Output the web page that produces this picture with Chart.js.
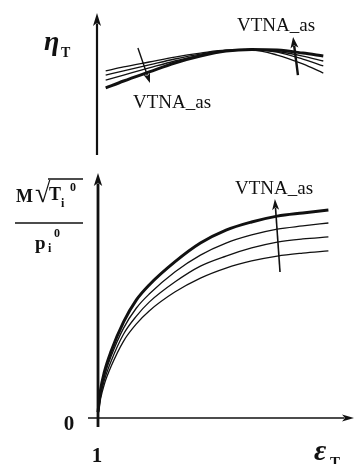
<!DOCTYPE html>
<html><head><meta charset="utf-8">
<script src="https://cdn.jsdelivr.net/npm/chart.js@4.4.1/dist/chart.umd.min.js"></script>
<style>
html,body{margin:0;padding:0;background:#fff;}
#wrap{position:relative;width:357px;height:464px;overflow:hidden;}
canvas{position:absolute;left:0;top:0;}
</style></head><body>
<div id="wrap"><canvas id="eff" width="357" height="464"></canvas><canvas id="flow" width="357" height="464"></canvas></div>
<script>
// Efficiency curves (upper panel)
const epsTop = [1.3, 2, 3, 4, 5, 6, 7, 8, 9, 9.8];
const etaA     = [5.92, 6.20, 6.55, 6.90, 7.18, 7.39, 7.39, 7.04, 6.41, 5.77];
const etaB     = [5.63, 5.92, 6.34, 6.76, 7.11, 7.36, 7.43, 7.25, 6.76, 6.27];
const etaC     = [5.28, 5.63, 6.13, 6.62, 7.04, 7.32, 7.43, 7.29, 6.97, 6.62];
const etaThick = [4.72, 5.21, 5.85, 6.48, 6.97, 7.32, 7.43, 7.39, 7.18, 6.97];

// Flow-parameter curves (lower panel)
const epsBot = [1, 1.1, 1.25, 1.5, 2, 2.5, 3, 4, 5, 6, 7, 8, 9, 10];
const flowThick = [0.24, 1.14, 1.88, 2.69, 3.92, 4.82, 5.43, 6.37, 7.14, 7.67, 8.00, 8.24, 8.37, 8.49];
const flow1     = [0.20, 1.02, 1.71, 2.49, 3.67, 4.49, 5.06, 5.96, 6.65, 7.14, 7.47, 7.71, 7.84, 7.96];
const flow2     = [0.16, 0.90, 1.55, 2.29, 3.43, 4.16, 4.73, 5.55, 6.20, 6.61, 6.94, 7.18, 7.31, 7.39];
const flow3     = [0.12, 0.78, 1.39, 2.08, 3.14, 3.84, 4.37, 5.14, 5.71, 6.12, 6.41, 6.61, 6.73, 6.82];

const xTickLabels = ['1'];
const yTickLabels = ['0'];

const INK = '#111';
const SERIF = '"Liberation Serif", "DejaVu Serif", serif';

function pts(xs, ys) { return xs.map((x, i) => ({x: x, y: ys[i]})); }
function line(xs, ys, w) {
  return {data: pts(xs, ys), borderColor: INK, borderWidth: w, pointRadius: 0,
          fill: false, cubicInterpolationMode: 'monotone', clip: false};
}

function arrow(ctx, x1, y1, x2, y2, lw, hl, hw) {
  const a = Math.atan2(y2 - y1, x2 - x1);
  ctx.save();
  ctx.strokeStyle = INK; ctx.fillStyle = INK; ctx.lineWidth = lw; ctx.lineCap = 'butt';
  ctx.beginPath();
  ctx.moveTo(x1, y1);
  ctx.lineTo(x2 - Math.cos(a) * hl * 0.8, y2 - Math.sin(a) * hl * 0.8);
  ctx.stroke();
  ctx.beginPath();
  ctx.moveTo(x2, y2);
  ctx.lineTo(x2 - Math.cos(a) * hl - Math.sin(a) * hw, y2 - Math.sin(a) * hl + Math.cos(a) * hw);
  ctx.lineTo(x2 - Math.cos(a) * hl * 0.75, y2 - Math.sin(a) * hl * 0.75);
  ctx.lineTo(x2 - Math.cos(a) * hl + Math.sin(a) * hw, y2 - Math.sin(a) * hl - Math.cos(a) * hw);
  ctx.closePath();
  ctx.fill();
  ctx.restore();
}

function text(ctx, s, x, y, font, align) {
  ctx.save();
  ctx.fillStyle = INK; ctx.font = font; ctx.textAlign = align || 'left'; ctx.textBaseline = 'alphabetic';
  ctx.fillText(s, x, y);
  ctx.restore();
}

const hiddenScales = (ymax) => ({
  x: {type: 'linear', min: 1, max: 11, display: false},
  y: {type: 'linear', min: 0, max: ymax, display: false}
});

// Upper panel: axis, label and direction arrows
const effDecor = {
  id: 'effDecor',
  afterDraw(chart) {
    const {ctx, scales: {x, y}, chartArea: ca} = chart;
    const x0 = x.getPixelForValue(1) - 1;
    arrow(ctx, x0, ca.bottom, x0, ca.top, 2.2, 13, 4);
    text(ctx, 'η', 44, 50, 'italic bold 28px ' + SERIF);
    text(ctx, 'T', 61, 57, 'bold 14px ' + SERIF);
    arrow(ctx, x.getPixelForValue(2.56), y.getPixelForValue(7.54),
               x.getPixelForValue(3.03), y.getPixelForValue(5.07), 1.4, 10, 3.5);
    arrow(ctx, x.getPixelForValue(8.81), y.getPixelForValue(5.63),
               x.getPixelForValue(8.62), y.getPixelForValue(8.31), 2.4, 11, 4);
    text(ctx, 'VTNA_as', 133, 108, '19px ' + SERIF);
    text(ctx, 'VTNA_as', 237, 31, '19px ' + SERIF);
  }
};

// Lower panel: axes, tick labels, axis titles and direction arrow
const flowDecor = {
  id: 'flowDecor',
  afterDraw(chart) {
    const {ctx, scales: {x, y}, chartArea: ca} = chart;
    const x0 = x.getPixelForValue(1);
    const y0 = y.getPixelForValue(0);
    arrow(ctx, x0, y0 + 9, x0, ca.top, 2.8, 13, 4.2);
    arrow(ctx, x0 - 10, y0, ca.right, y0, 1.6, 12, 3.5);
    text(ctx, yTickLabels[0], x0 - 29, y0 + 12, 'bold 21px ' + SERIF, 'center');
    text(ctx, xTickLabels[0], x0 - 1, y0 + 44, 'bold 21px ' + SERIF, 'center');
    text(ctx, 'ε', 314, 460, 'italic bold 30px ' + SERIF);
    text(ctx, 'T', 330, 467, 'bold 15px ' + SERIF);
    // M·√Tᵢ⁰ / pᵢ⁰
    text(ctx, 'M', 16, 202, 'bold 18px ' + SERIF);
    text(ctx, '√', 35, 202, 'bold 28px ' + SERIF);
    ctx.save(); ctx.strokeStyle = INK; ctx.lineWidth = 1.5;
    ctx.beginPath(); ctx.moveTo(48, 179); ctx.lineTo(83, 179); ctx.stroke();
    ctx.beginPath(); ctx.moveTo(15, 223); ctx.lineTo(83, 223); ctx.stroke();
    ctx.restore();
    text(ctx, 'T', 49, 200, 'bold 18px ' + SERIF);
    text(ctx, 'i', 61, 207, 'bold 12px ' + SERIF);
    text(ctx, '0', 70, 191, 'bold 12px ' + SERIF);
    text(ctx, 'p', 35, 249, 'bold 19px ' + SERIF);
    text(ctx, 'i', 48, 252, 'bold 12px ' + SERIF);
    text(ctx, '0', 54, 237, 'bold 12px ' + SERIF);
    arrow(ctx, x.getPixelForValue(8.11), y.getPixelForValue(5.96),
               x.getPixelForValue(7.91), y.getPixelForValue(8.94), 1.6, 11, 3.5);
    text(ctx, 'VTNA_as', 235, 194, '19px ' + SERIF);
  }
};

const common = {
  responsive: false, animation: false, devicePixelRatio: 1,
  plugins: {legend: {display: false}, tooltip: {enabled: false}},
  elements: {line: {capBezierPoints: true}}
};

new Chart(document.getElementById('eff'), {
  type: 'line',
  data: {datasets: [line(epsTop, etaA, 1.3), line(epsTop, etaB, 1.3), line(epsTop, etaC, 1.3),
                    line(epsTop, etaThick, 3)]},
  options: Object.assign({}, common, {
    layout: {padding: {left: 98, right: 3, top: 13, bottom: 309}},
    scales: hiddenScales(10)
  }),
  plugins: [effDecor]
});

new Chart(document.getElementById('flow'), {
  type: 'line',
  data: {datasets: [line(epsBot, flow3, 1.3), line(epsBot, flow2, 1.3), line(epsBot, flow1, 1.3),
                    line(epsBot, flowThick, 3)]},
  options: Object.assign({}, common, {
    layout: {padding: {left: 98, right: 3, top: 173, bottom: 46}},
    scales: hiddenScales(10)
  }),
  plugins: [flowDecor]
});
</script>
</body></html>
